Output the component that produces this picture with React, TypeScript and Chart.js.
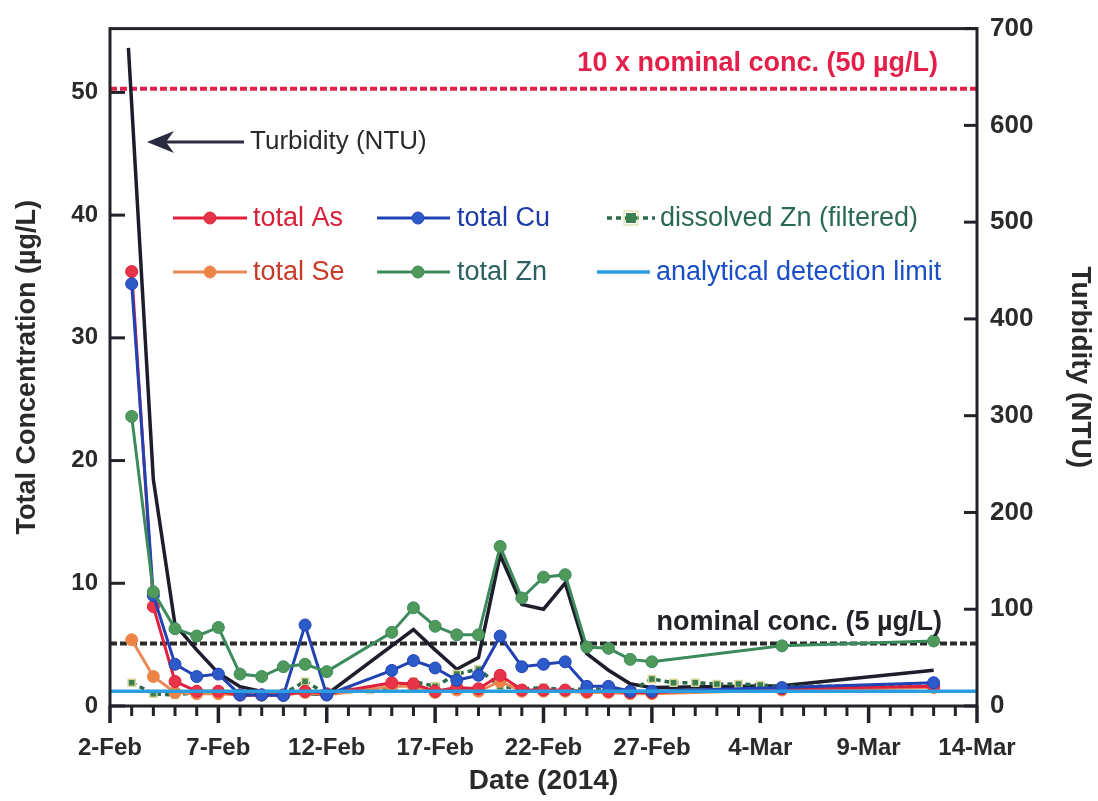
import React, { useEffect, useRef } from 'react';
import { Chart, registerables } from 'chart.js';

Chart.register(...registerables);

const FONT = '"Liberation Sans", Arial, Helvetica, sans-serif';

// x-axis tick labels (every 5 days starting 2-Feb-2014, day 0)
const tickLabels = ['2-Feb', '7-Feb', '12-Feb', '17-Feb', '22-Feb', '27-Feb', '4-Mar', '9-Mar', '14-Mar'];

// sampling days (days after 2-Feb-2014)
const sampleDays = [1, 2, 3, 4, 5, 6, 7, 8, 9, 10, 11, 12, 13, 14, 15, 16, 17, 18, 19, 20, 21, 22, 23, 24, 25, 26, 27, 28, 29, 30, 31, 38];

// concentrations (µg/L)
const totalAs = [35.4, 8.1, 2.0, 1.2, 1.2, 0.9, 0.9, 0.9, 1.2, 1.0, null, null, 1.9, 1.8, 1.2, 1.5, 1.4, 2.5, 1.3, 1.3, 1.3, 1.2, 1.2, 1.1, 1.1, null, null, null, null, null, 1.4, 1.6];
const totalSe = [5.4, 2.4, 1.1, 1.0, 1.0, 0.9, 0.9, 0.9, 1.1, 0.9, null, null, 1.6, 1.6, 1.1, 1.3, 1.2, 2.0, 1.2, 1.2, 1.2, 1.1, 1.1, 1.0, 1.0, null, null, null, null, null, 1.3, 1.5];
const totalCu = [34.4, 9.0, 3.4, 2.4, 2.6, 0.9, 0.9, 0.85, 6.6, 0.9, null, null, 2.9, 3.7, 3.1, 2.1, 2.5, 5.7, 3.2, 3.4, 3.6, 1.6, 1.6, 1.2, 1.2, null, null, null, null, null, 1.5, 1.9];
const totalZn = [23.6, 9.3, 6.3, 5.7, 6.4, 2.6, 2.4, 3.2, 3.4, 2.8, null, null, 6.0, 8.0, 6.5, 5.8, 5.8, 13.0, 8.8, 10.5, 10.7, 4.8, 4.7, 3.8, 3.6, null, null, null, null, null, 4.9, 5.3];
const dissolvedZn = [1.9, 1.0, 0.9, 1.1, 1.2, 0.9, 0.9, 1.0, 2.0, 1.0, 1.3, 1.3, 1.5, 2.0, 1.6, 2.6, 3.0, 1.6, 1.4, 1.5, 1.3, 1.4, 1.3, 1.2, 2.2, 1.9, 1.9, 1.8, 1.8, 1.7, 1.6, 1.6];

// turbidity (NTU)
const turbDays = [0.85, 2, 3, 4, 5, 6, 7, 10, 14, 15, 16, 17, 18, 19, 20, 21, 22, 23, 24, 25, 31, 38];
const turbidity = [680, 234, 84, 58, 34, 20, 15, 12, 79, 58, 38, 50, 156, 105, 100, 127, 54, 37, 23, 19, 21, 37];

// reference lines
const refDays = [0, 40];
const detectionLimit = [1.2, 1.2];
const nominalConc = [5.1, 5.1];
const tenXNominal = [50.3, 50.3];

const pts = (xs: number[], ys: (number | null)[]) => xs.map((x, i) => ({ x, y: ys[i] }));

const COL = {
  as: '#e0203c', asPt: '#e83448',
  se: '#e88a58', sePt: '#ee8444',
  cu: '#2242b4', cuPt: '#2c5ac8',
  zn: '#3d8a5c', znPt: '#4f9a5a',
  dzn: '#2a6a48', dznPt: '#3a8050',
  dl: '#2a9ee0',
  turb: '#1d1d2b',
  red: '#e4204a',
  dark: '#222228',
};

const overlayPlugin = {
  id: 'overlay',
  afterDraw(chart: any) {
    const { ctx, chartArea: ca, scales } = chart;
    const xs = scales.x, ys = scales.y, ys2 = scales.y2;
    ctx.save();
    // frame
    ctx.strokeStyle = COL.dark;
    ctx.lineWidth = 3;
    ctx.strokeRect(ca.left, ca.top, ca.right - ca.left, ca.bottom - ca.top);
    // left ticks (inward)
    ctx.lineWidth = 3;
    for (let v = 0; v <= 50; v += 10) {
      const y = ys.getPixelForValue(v);
      ctx.beginPath(); ctx.moveTo(ca.left, y); ctx.lineTo(ca.left + 15, y); ctx.stroke();
    }
    // right ticks (inward)
    for (let v = 0; v <= 700; v += 100) {
      const y = ys2.getPixelForValue(v);
      ctx.beginPath(); ctx.moveTo(ca.right, y); ctx.lineTo(ca.right - 13, y); ctx.stroke();
    }
    // bottom ticks (outward), daily minor, 5-day major
    for (let d = 0; d <= 40; d++) {
      const x = xs.getPixelForValue(d);
      const len = d % 5 === 0 ? 17 : 10;
      ctx.lineWidth = d % 5 === 0 ? 3.5 : 3;
      ctx.beginPath(); ctx.moveTo(x, ca.bottom); ctx.lineTo(x, ca.bottom + len); ctx.stroke();
    }

    // annotations
    ctx.font = `bold 27px ${FONT}`;
    ctx.textAlign = 'right';
    ctx.textBaseline = 'alphabetic';
    ctx.fillStyle = COL.red;
    ctx.fillText('10 x nominal conc. (50 µg/L)', 938, ys.getPixelForValue(tenXNominal[0]) - 18);
    ctx.fillStyle = COL.dark;
    ctx.fillText('nominal conc. (5 µg/L)', 942, ys.getPixelForValue(nominalConc[0]) - 13);

    // turbidity arrow
    const ay = 142;
    ctx.strokeStyle = '#2a2a40';
    ctx.fillStyle = '#2a2a40';
    ctx.lineWidth = 3;
    ctx.beginPath(); ctx.moveTo(244, ay); ctx.lineTo(165, ay); ctx.stroke();
    ctx.beginPath();
    ctx.moveTo(147, ay);
    ctx.lineTo(174, ay - 11);
    ctx.lineTo(166, ay);
    ctx.lineTo(174, ay + 11);
    ctx.closePath();
    ctx.fill();
    ctx.font = `26px ${FONT}`;
    ctx.textAlign = 'left';
    ctx.textBaseline = 'middle';
    ctx.fillStyle = '#2a2a2a';
    ctx.fillText('Turbidity (NTU)', 250, ay);

    // legend
    const ds = chart.data.datasets;
    const items = [
      { i: 1, x1: 173, x2: 247, mx: 210, tx: 253, y: 218, color: '#d8203a' },
      { i: 3, x1: 377, x2: 450, mx: 418, tx: 457, y: 218, color: '#1c3aa8' },
      { i: 5, x1: 607, x2: 655, mx: 631, tx: 660, y: 218, color: '#2a6a50' },
      { i: 2, x1: 173, x2: 247, mx: 210, tx: 253, y: 272, color: '#c83a28' },
      { i: 4, x1: 377, x2: 450, mx: 418, tx: 457, y: 272, color: '#2a6060' },
      { i: 6, x1: 597, x2: 650, mx: -1, tx: 656, y: 272, color: '#1a4ec8' },
    ];
    ctx.font = `27px ${FONT}`;
    ctx.textBaseline = 'middle';
    ctx.textAlign = 'left';
    for (const it of items) {
      const d = ds[it.i];
      ctx.strokeStyle = d.borderColor;
      ctx.lineWidth = d.borderWidth;
      ctx.setLineDash(d.borderDash || []);
      ctx.beginPath(); ctx.moveTo(it.x1, it.y); ctx.lineTo(it.x2, it.y); ctx.stroke();
      ctx.setLineDash([]);
      if (it.mx > 0) {
        ctx.fillStyle = d.pointBackgroundColor;
        ctx.strokeStyle = d.pointBorderColor;
        ctx.lineWidth = 1;
        if (d.pointStyle === 'rect') {
          ctx.fillRect(it.mx - 5, it.y - 5, 10, 10);
          ctx.strokeRect(it.mx - 7, it.y - 7, 14, 14);
        } else {
          ctx.beginPath(); ctx.arc(it.mx, it.y, 6, 0, Math.PI * 2); ctx.fill(); ctx.stroke();
        }
      }
      ctx.fillStyle = it.color;
      ctx.fillText(d.label, it.tx, it.y + 1);
    }
    ctx.restore();
  },
};

export default function App() {
  const ref = useRef<HTMLCanvasElement | null>(null);

  useEffect(() => {
    document.body.style.margin = '0';
    const canvas = ref.current;
    if (!canvas) return;

    const lineDs = (label: string, data: (number | null)[], line: string, pt: string, order: number) => ({
      label,
      data: pts(sampleDays, data),
      borderColor: line,
      backgroundColor: pt,
      pointBackgroundColor: pt,
      pointBorderColor: line,
      pointBorderWidth: 1,
      pointRadius: 6,
      borderWidth: 3,
      spanGaps: true,
      yAxisID: 'y',
      order,
    });

    const chart = new Chart(canvas, {
      type: 'line',
      data: {
        datasets: [
          {
            label: 'Turbidity (NTU)',
            data: pts(turbDays, turbidity),
            borderColor: COL.turb,
            backgroundColor: COL.turb,
            borderWidth: 3.5,
            pointRadius: 0,
            yAxisID: 'y2',
            order: 6,
          },
          lineDs('total As', totalAs, COL.as, COL.asPt, 3),
          lineDs('total Se', totalSe, COL.se, COL.sePt, 4),
          lineDs('total Cu', totalCu, COL.cu, COL.cuPt, 2),
          lineDs('total Zn', totalZn, COL.zn, COL.znPt, 1),
          {
            label: 'dissolved Zn (filtered)',
            data: pts(sampleDays, dissolvedZn),
            borderColor: COL.dzn,
            backgroundColor: COL.dznPt,
            pointBackgroundColor: COL.dznPt,
            pointBorderColor: '#d8d49a',
            pointBorderWidth: 1.5,
            pointStyle: 'rect',
            pointRadius: 5,
            borderWidth: 3.5,
            borderDash: [5, 4],
            spanGaps: true,
            yAxisID: 'y',
            order: 5,
          },
          {
            label: 'analytical detection limit',
            data: pts(refDays, detectionLimit),
            borderColor: COL.dl,
            backgroundColor: COL.dl,
            borderWidth: 3.5,
            pointRadius: 0,
            yAxisID: 'y',
            order: 0,
          },
          {
            label: 'nominal conc. (5 µg/L)',
            data: pts(refDays, nominalConc),
            borderColor: '#2a2a2a',
            borderWidth: 4,
            borderDash: [7, 3],
            pointRadius: 0,
            yAxisID: 'y',
            order: 7,
          },
          {
            label: '10 x nominal conc. (50 µg/L)',
            data: pts(refDays, tenXNominal),
            borderColor: COL.red,
            borderWidth: 4,
            borderDash: [7, 3],
            pointRadius: 0,
            yAxisID: 'y',
            order: 7,
          },
        ],
      },
      options: {
        animation: false,
        responsive: false,
        maintainAspectRatio: false,
        layout: { padding: { top: 24, left: 0, right: 0, bottom: 0 } },
        plugins: {
          legend: { display: false },
          tooltip: { enabled: false },
        },
        scales: {
          x: {
            type: 'linear',
            position: 'bottom',
            min: 0,
            max: 40,
            grid: { display: false, drawTicks: false },
            border: { display: false },
            ticks: {
              stepSize: 5,
              autoSkip: false,
              maxRotation: 0,
              padding: 28,
              color: '#2a2a2a',
              font: { family: FONT, size: 24, weight: 'bold' },
              callback: (v: any) => tickLabels[Math.round(Number(v) / 5)] ?? '',
            },
            title: {
              display: true,
              text: 'Date (2014)',
              color: '#2a2a2a',
              font: { family: FONT, size: 28, weight: 'bold' },
              padding: { top: 0, bottom: 3 },
            },
            afterFit: (s: any) => { s.height = 95; },
          },
          y: {
            type: 'linear',
            position: 'left',
            min: 0,
            max: 55.2,
            grid: { display: false, drawTicks: false },
            border: { display: false },
            afterBuildTicks: (s: any) => { s.ticks = s.ticks.filter((t: any) => t.value % 10 === 0); },
            ticks: {
              stepSize: 10,
              padding: 12,
              color: '#2a2a2a',
              font: { family: FONT, size: 24, weight: 'bold' },
            },
            title: {
              display: true,
              text: 'Total Concentration (µg/L)',
              color: '#2a2a2a',
              font: { family: FONT, size: 27, weight: 'bold' },
              padding: { top: 11, bottom: 0 },
            },
            afterFit: (s: any) => { s.width = 110; },
          },
          y2: {
            type: 'linear',
            position: 'right',
            min: 0,
            max: 700,
            grid: { display: false, drawTicks: false, drawOnChartArea: false },
            border: { display: false },
            ticks: {
              stepSize: 100,
              padding: 13,
              color: '#2a2a2a',
              font: { family: FONT, size: 26, weight: 'bold' },
            },
            title: {
              display: true,
              text: 'Turbidity (NTU)',
              color: '#2a2a2a',
              font: { family: FONT, size: 28, weight: 'bold' },
              padding: { top: 1, bottom: 0 },
            },
            afterFit: (s: any) => { s.width = 121; },
          },
        },
      },
      plugins: [overlayPlugin],
    } as any);

    return () => chart.destroy();
  }, []);

  return (
    <div style={{ width: 1098, height: 801, background: '#ffffff' }}>
      <canvas ref={ref} width={1098} height={801} style={{ display: 'block', width: 1098, height: 801 }} />
    </div>
  );
}
